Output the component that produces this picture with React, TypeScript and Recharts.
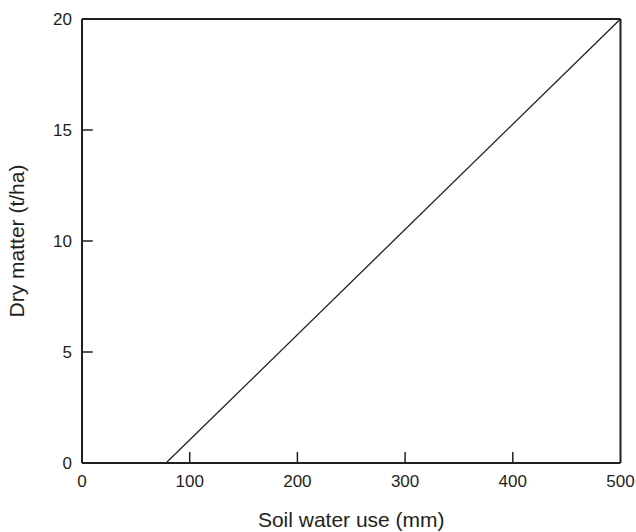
import * as React from "react"
import { LineChart, Line, XAxis, YAxis, ReferenceLine } from "recharts"

// soil water use (mm) vs dry matter (t/ha)
const waterUse = [78, 500]
const dryMatter = [0, 20]

const xTicks = [0, 100, 200, 300, 400, 500]
const yTicks = [0, 5, 10, 15, 20]
// inner ticks (drawn pointing into the plot)
const xInnerTicks = [100, 200, 300, 400]
const yInnerTicks = [5, 10, 15]

const data = waterUse.map((x, i) => ({ x, y: dryMatter[i] }))

const INK = "#231f20"
const FONT = "'Liberation Sans', Arial, Helvetica, sans-serif"

export default function App() {
  return (
    <div style={{ position: "absolute", left: 0, top: 0, fontFamily: FONT }}>
      <LineChart width={636} height={532} data={data} margin={{ top: 19, right: 15.5, left: 0, bottom: 0 }}>
        <XAxis
          type="number"
          dataKey="x"
          domain={[0, 500]}
          ticks={xTicks}
          height={69}
          tickSize={0}
          tickMargin={12}
          tickLine={false}
          axisLine={{ stroke: INK, strokeWidth: 2 }}
          tick={{ fill: INK, fontSize: 17, fontFamily: FONT }}
          label={{
            value: "Soil water use (mm)",
            position: "insideBottom",
            offset: 5,
            style: { fill: INK, fontSize: 21, fontFamily: FONT },
          }}
        />
        <YAxis
          type="number"
          domain={[0, 20]}
          ticks={yTicks}
          width={82}
          tickSize={0}
          tickMargin={10}
          tickLine={false}
          axisLine={{ stroke: INK, strokeWidth: 2 }}
          tick={{ fill: INK, fontSize: 17, fontFamily: FONT }}
          label={{
            value: "Dry matter (t/ha)",
            angle: -90,
            position: "insideLeft",
            offset: 17,
            style: { fill: INK, fontSize: 21, fontFamily: FONT, textAnchor: "middle" },
          }}
        />
        <ReferenceLine y={20} stroke={INK} strokeWidth={2} ifOverflow="visible" />
        <ReferenceLine x={500} stroke={INK} strokeWidth={2} ifOverflow="visible" />
        {xInnerTicks.map((t) => (
          <ReferenceLine
            key={"xt" + t}
            segment={[{ x: t, y: 0 }, { x: t, y: 0.5 }]}
            stroke={INK}
            strokeWidth={1.5}
          />
        ))}
        {yInnerTicks.map((t) => (
          <ReferenceLine
            key={"yt" + t}
            segment={[{ x: 0, y: t }, { x: 10, y: t }]}
            stroke={INK}
            strokeWidth={1.5}
          />
        ))}
        <Line
          type="linear"
          dataKey="y"
          stroke={INK}
          strokeWidth={1.3}
          dot={false}
          isAnimationActive={false}
        />
      </LineChart>
    </div>
  )
}
